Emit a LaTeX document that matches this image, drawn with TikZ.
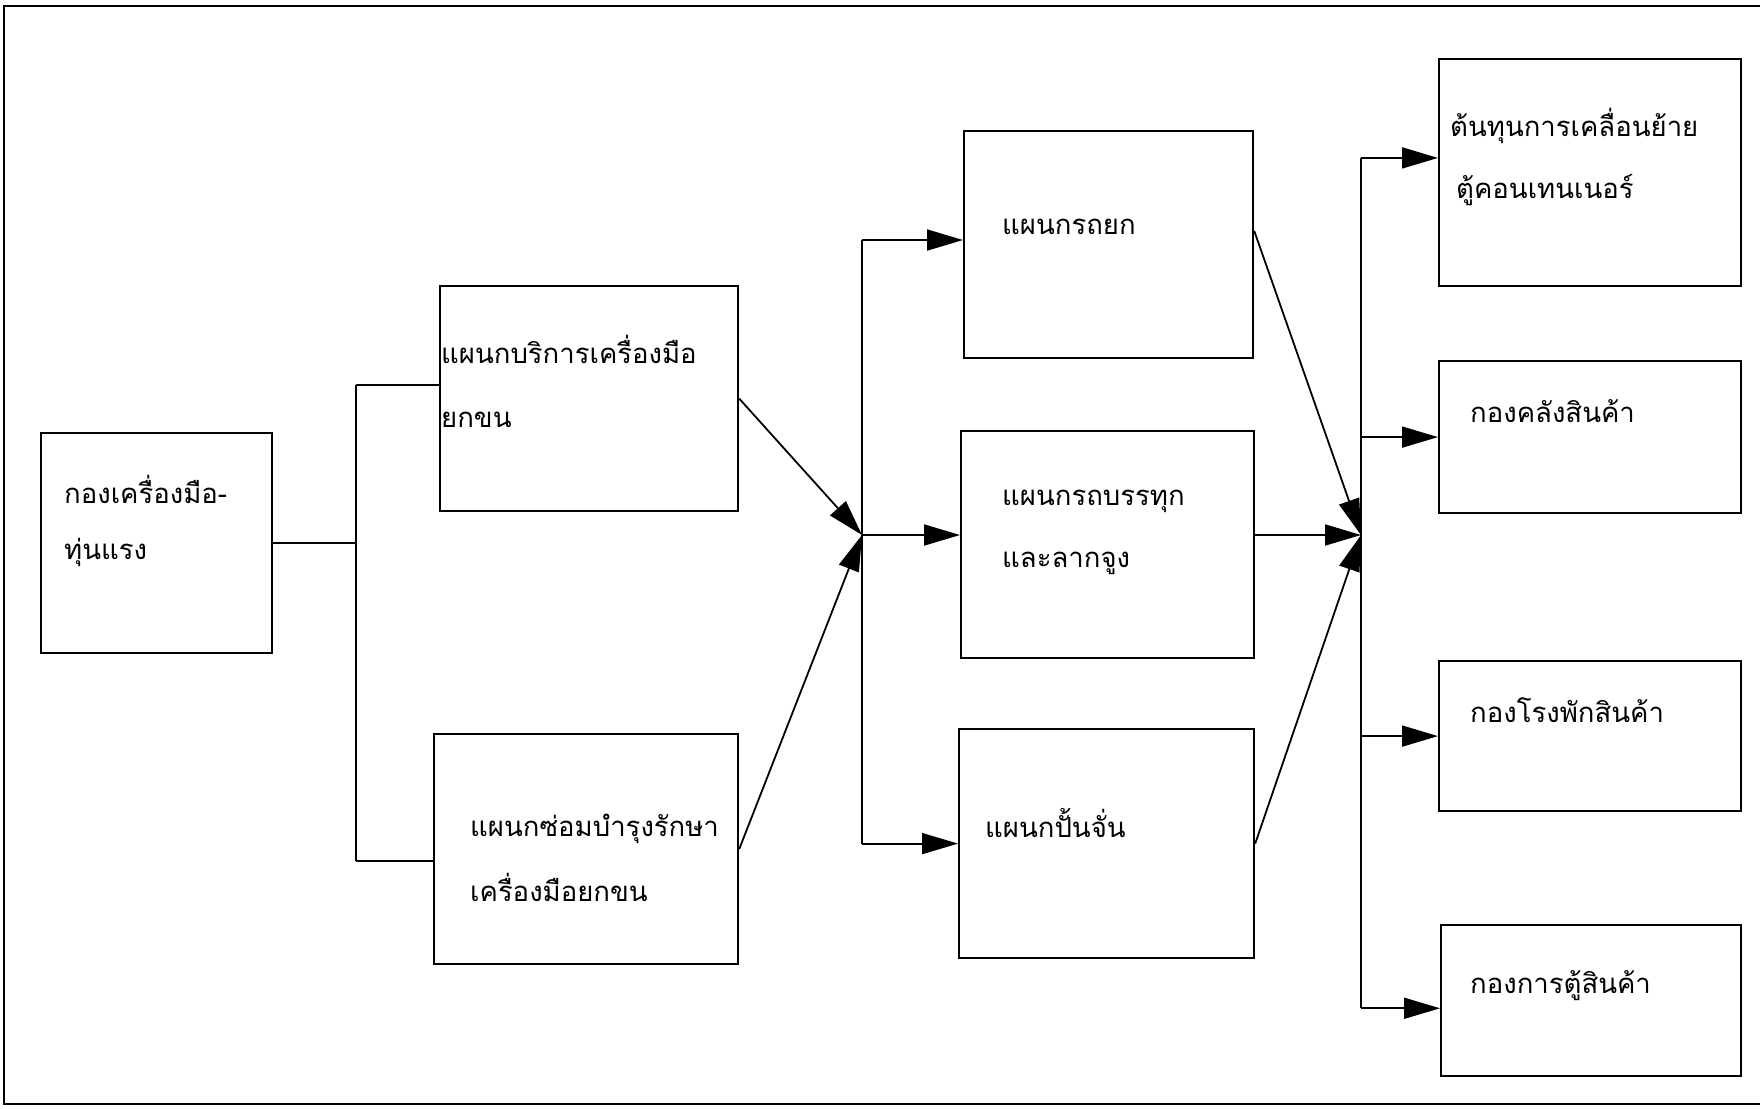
\documentclass[tikz,border=0pt]{standalone}
\usepackage{fontspec}
\newfontfamily\thaifont[Script=Thai]{Loma}
\usetikzlibrary{arrows.meta,calc}
\tikzset{
  box/.style={draw, line width=2.2pt, inner sep=0pt, anchor=north west},
  txt/.style={anchor=base west, inner sep=0pt, font=\thaifont\fontsize{27.5}{33}\selectfont},
  link/.style={line width=1.8pt},
  arr/.style={link, -{Triangle[length=36pt,width=21pt]}},
}
\begin{document}
\begin{tikzpicture}[x=1pt,y=-1pt]
\useasboundingbox (0,0) rectangle (1760,1108);
\fill[white] (0,0) rectangle (1760,1108);
% page frame
\draw[line width=2pt] (1760,6) -- (4,6) -- (4,1104) -- (1760,1104);

% boxes
\node[box, minimum width=231pt, minimum height=220pt] (a)  at (40,432)  {};
\node[box, minimum width=298pt, minimum height=225pt] (b1) at (439,285) {};
\node[box, minimum width=304pt, minimum height=230pt] (b2) at (433,733) {};
\node[box, minimum width=289pt, minimum height=227pt] (c1) at (963,130) {};
\node[box, minimum width=293pt, minimum height=227pt] (c2) at (960,430) {};
\node[box, minimum width=295pt, minimum height=229pt] (c3) at (958,728) {};
\node[box, minimum width=302pt, minimum height=227pt] (d1) at (1438,58) {};
\node[box, minimum width=302pt, minimum height=152pt] (d2) at (1438,360) {};
\node[box, minimum width=302pt, minimum height=150pt] (d3) at (1438,660) {};
\node[box, minimum width=300pt, minimum height=151pt] (d4) at (1440,924) {};

% labels
\node[txt] (ta1) at (64,503)   {กองเครื่องมือ-};
\node[txt] (ta2) at (64,559)   {ทุ่นแรง};
\node[txt] (tb1) at (441,363)  {แผนกบริการเครื่องมือ};
\node[txt] (tb2) at (441,427)  {ยกขน};
\node[txt] (tb3) at (470,836)  {แผนกซ่อมบำรุงรักษา};
\node[txt] (tb4) at (470,901)  {เครื่องมือยกขน};
\node[txt] (tc1) at (1002,234) {แผนกรถยก};
\node[txt] (tc2) at (1002,505) {แผนกรถบรรทุก};
\node[txt] (tc3) at (1002,567) {และลากจูง};
\node[txt] (tc4) at (985,837)  {แผนกปั้นจั่น};
\node[txt] (td1) at (1450,136) {ต้นทุนการเคลื่อนย้าย};
\node[txt] (td2) at (1456,198) {ตู้คอนเทนเนอร์};
\node[txt] (td3) at (1470,422) {กองคลังสินค้า};
\node[txt] (td4) at (1470,722) {กองโรงพักสินค้า};
\node[txt] (td5) at (1470,993) {กองการตู้สินค้า};

% junction points
\coordinate (s1) at (356,542);
\coordinate (j1) at (862,535);
\coordinate (j2) at (1361,535);

% first split
\draw[link] (a.east) -- (a.east -| s1);
\coordinate (b1in) at ($(b1.north west)!0.44!(b1.south west)$);
\coordinate (b2in) at ($(b2.north west)!0.55!(b2.south west)$);
\draw[link] (s1 |- b1in) -- (s1 |- b2in);
\draw[link] (s1 |- b1in) -- (b1in);
\draw[link] (s1 |- b2in) -- (b2in);

% into the second junction
\draw[arr] (b1.east) -- (j1);
\draw[arr] (b2.east) -- (j1);
\coordinate (c1in) at ($(c1.north west)!0.48!(c1.south west)$);
\draw[link] (j1 |- c1in) -- (j1 |- c3.west);
\draw[arr] (j1 |- c1in) -- (c1in);
\draw[arr] (j1) -- (j1 -| c2.west);
\draw[arr] (j1 |- c3.west) -- (c3.west);

% into the third junction
\coordinate (c1out) at ($(c1.north east)!0.44!(c1.south east)$);
\draw[arr] (c1out) -- (j2);
\draw[arr] (c2.east |- j2) -- (j2);
\draw[arr] (c3.east) -- (j2);
\coordinate (d1in) at ($(d1.north west)!0.436!(d1.south west)$);
\coordinate (d4in) at ($(d4.north west)!0.55!(d4.south west)$);
\draw[link] (j2 |- d1in) -- (j2 |- d4in);
\draw[arr] (j2 |- d1in) -- (d1in);
\draw[arr] (j2 |- d2.west) -- (d2.west);
\draw[arr] (j2 |- d3.west) -- (d3.west);
\draw[arr] (j2 |- d4in) -- (d4in);
\end{tikzpicture}
\end{document}
